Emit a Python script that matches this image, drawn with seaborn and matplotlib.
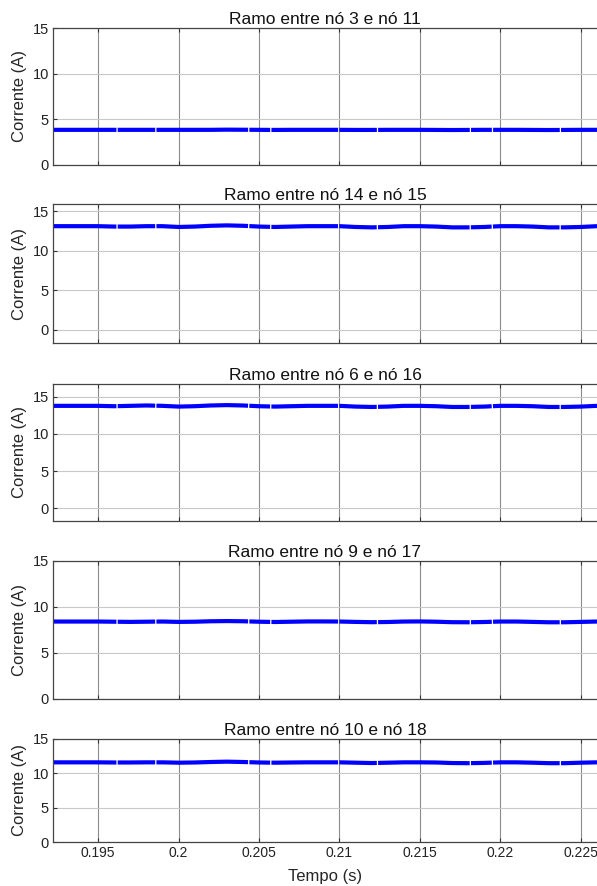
import matplotlib
matplotlib.use("Agg")
import matplotlib.pyplot as plt
import seaborn as sns
import pandas as pd

sns.set_theme(style="white")
plt.rcParams['font.family'] = ['Liberation Sans', 'DejaVu Sans']

titles = ["Ramo entre nó 3 e nó 11", "Ramo entre nó 14 e nó 15",
          "Ramo entre nó 6 e nó 16", "Ramo entre nó 9 e nó 17",
          "Ramo entre nó 10 e nó 18"]

tempo = [0.192, 0.193, 0.194, 0.195, 0.196, 0.197, 0.198, 0.199, 0.200, 0.201,
         0.202, 0.203, 0.204, 0.205, 0.206, 0.207, 0.208, 0.209, 0.210, 0.211,
         0.212, 0.213, 0.214, 0.215, 0.216, 0.217, 0.218, 0.219, 0.220, 0.221,
         0.222, 0.223, 0.224, 0.225, 0.226]

i_3_11 = [3.85, 3.85, 3.85, 3.85, 3.85, 3.85, 3.85, 3.85, 3.85, 3.85,
          3.85, 3.87, 3.86, 3.85, 3.84, 3.85, 3.85, 3.85, 3.85, 3.84,
          3.84, 3.85, 3.85, 3.85, 3.84, 3.83, 3.84, 3.85, 3.85, 3.85,
          3.84, 3.83, 3.84, 3.85, 3.85]

i_14_15 = [13.1, 13.1, 13.1, 13.1, 13.05, 13.05, 13.1, 13.1, 13.0, 13.05,
           13.15, 13.2, 13.15, 13.05, 13.0, 13.05, 13.1, 13.1, 13.1, 13.0,
           12.95, 13.0, 13.1, 13.1, 13.05, 12.95, 12.95, 13.0, 13.1, 13.1,
           13.05, 12.95, 12.95, 13.0, 13.1]

i_6_16 = [13.8, 13.8, 13.8, 13.8, 13.75, 13.8, 13.85, 13.8, 13.7, 13.75,
          13.85, 13.9, 13.85, 13.75, 13.7, 13.75, 13.8, 13.8, 13.8, 13.7,
          13.65, 13.7, 13.8, 13.8, 13.75, 13.65, 13.65, 13.7, 13.8, 13.8,
          13.75, 13.65, 13.65, 13.7, 13.8]

i_9_17 = [8.42, 8.42, 8.42, 8.42, 8.4, 8.38, 8.4, 8.42, 8.38, 8.4,
          8.45, 8.47, 8.45, 8.4, 8.37, 8.4, 8.43, 8.43, 8.42, 8.38,
          8.35, 8.37, 8.42, 8.43, 8.4, 8.35, 8.34, 8.37, 8.42, 8.42,
          8.38, 8.34, 8.34, 8.38, 8.42]

i_10_18 = [11.6, 11.6, 11.6, 11.6, 11.58, 11.58, 11.6, 11.6, 11.55, 11.58,
           11.65, 11.7, 11.65, 11.58, 11.55, 11.58, 11.6, 11.6, 11.6, 11.55,
           11.5, 11.55, 11.6, 11.6, 11.58, 11.5, 11.48, 11.52, 11.6, 11.6,
           11.55, 11.48, 11.48, 11.55, 11.6]

series = [i_3_11, i_14_15, i_6_16, i_9_17, i_10_18]
ylims = [(0, 15), (-1.65, 15.9), (-1.75, 16.75), (0, 15), (0, 15)]
xticks = [0.195, 0.2, 0.205, 0.21, 0.215, 0.22, 0.225]
xticklabels = ["0.195", "0.2", "0.205", "0.21", "0.215", "0.22", "0.225"]
yticks = [0, 5, 10, 15]

W, H = 597, 886
# (top, bottom) in pixels
boxes = [(28, 165), (204, 343), (384, 521), (561, 699), (739, 842)]
left_px, right_px = 53, 597

fig = plt.figure(figsize=(W / 100, H / 100), dpi=100)

for k, (vals, title, yl, (tp, bt)) in enumerate(zip(series, titles, ylims, boxes)):
    ax = fig.add_axes([left_px / W, 1 - bt / H, (right_px - left_px) / W, (bt - tp) / H])
    df = pd.DataFrame({"t": tempo, "i": vals})
    sns.lineplot(data=df, x="t", y="i", ax=ax, color="#0000ff", lw=3.0,
                 dashes=False, solid_capstyle="butt")
    ax.lines[-1].set_linestyle((0, (16, 0.3, 9, 0.3, 22, 0.3, 5, 0.3)))
    ax.set_xlim(0.1922, 0.226)
    ax.set_ylim(*yl)
    ax.set_xticks(xticks)
    ax.set_yticks(yticks)
    ax.set_yticklabels([str(v) for v in yticks], fontsize=10.5)
    if k == len(series) - 1:
        ax.set_xticklabels(xticklabels, fontsize=10)
        ax.set_xlabel("Tempo (s)", fontsize=12, labelpad=6)
    else:
        ax.set_xticklabels([])
        ax.set_xlabel("")
    ax.set_ylabel("Corrente (A)", fontsize=12, labelpad=4)
    ax.set_title(title, fontsize=12.5, pad=3, color="#111111")
    ax.xaxis.grid(True, color="#8c8c8c", lw=0.8)
    ax.yaxis.grid(True, color="#c8c8c8", lw=0.8)
    ax.set_axisbelow(True)
    ax.tick_params(direction="in", length=3, width=0.8, color="#333333",
                   top=True, bottom=True, left=True, right=False, pad=3,
                   labelcolor="#222222")
    for side in ["left", "bottom", "top"]:
        ax.spines[side].set_color("#444444")
        ax.spines[side].set_linewidth(0.9)
    ax.spines["right"].set_visible(False)

fig.savefig("out.png", dpi=100, facecolor="white")
